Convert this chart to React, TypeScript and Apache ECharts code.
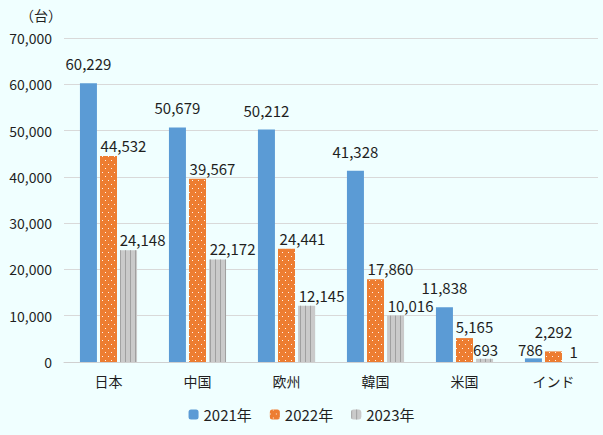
import React, { useEffect, useRef } from 'react';
import * as echarts from 'echarts';

const categories = ['日本', '中国', '欧州', '韓国', '米国', 'インド'];
const seriesNames = ['2021年', '2022年', '2023年'];
const values2021 = [60229, 50679, 50212, 41328, 11838, 786];
const values2022 = [44532, 39567, 24441, 17860, 5165, 2292];
const values2023 = [24148, 22172, 12145, 10016, 693, 1];

// label nudges, as in the source
const offsets2021 = [[0, 0], [0, 0], [0, 0], [0, 0], [0, 0], [-3, 11]];
const offsets2022 = [[15, 0], [15, 0], [16, 0], [15, 0], [10, -1], [0, -9]];
const offsets2023 = [[14, 0], [15, 0], [15, 0], [15, 0], [1, 1], [0, 0]];

const fmt = (v: number) => v.toLocaleString('en-US');
const font = '"Noto Sans CJK JP", "Noto Sans", sans-serif';
const textColor = '#1f1f1f';

export default function App() {
  const chartRef = useRef<HTMLDivElement>(null);

  useEffect(() => {
    if (!chartRef.current) return;
    const chart = echarts.init(chartRef.current, null, { renderer: 'svg' });

    const mk = (vals: number[], offs: number[][]) =>
      vals.map((v, i) => ({ value: v, label: { offset: offs[i] } }));

    const label = (distance: number) => ({
      show: true,
      position: 'top',
      distance,
      color: textColor,
      fontSize: 15,
      fontFamily: font,
      formatter: (p: any) => fmt(p.value),
    });

    chart.setOption({
      animation: false,
      backgroundColor: '#F0FFFF',
      textStyle: { fontFamily: font },
      grid: { left: 64, right: 5, top: 38, bottom: 73 },
      graphic: [
        {
          type: 'text',
          left: 20,
          top: 8,
          style: { text: '（台）', fill: textColor, fontSize: 14, fontFamily: font },
        },
      ],
      legend: {
        bottom: 8,
        left: 'center',
        itemWidth: 10,
        itemHeight: 10,
        itemGap: 18,
        textStyle: { color: textColor, fontSize: 15, fontFamily: font },
        data: seriesNames,
      },
      xAxis: {
        type: 'category',
        data: categories,
        axisTick: { show: false },
        axisLine: { lineStyle: { color: '#D0D0D0' } },
        axisLabel: { color: textColor, fontSize: 14, margin: 12, fontFamily: font },
      },
      yAxis: {
        type: 'value',
        min: 0,
        max: 70000,
        interval: 10000,
        splitLine: { lineStyle: { color: '#D9D9D9' } },
        axisLabel: { color: textColor, fontSize: 14, margin: 12, formatter: (v: number) => fmt(v), fontFamily: font },
      },
      series: [
        {
          name: seriesNames[0],
          type: 'bar',
          barWidth: 17,
          barGap: '18%',
          itemStyle: { color: '#5B9BD5' },
          label: label(12),
          data: mk(values2021, offsets2021),
        },
        {
          name: seriesNames[1],
          type: 'bar',
          barWidth: 17,
          barGap: '18%',
          itemStyle: {
            color: '#ED7D31',
            decal: {
              symbol: 'rect',
              symbolSize: 1,
              color: 'rgba(255,255,255,0.9)',
              dashArrayX: [[1, 5], [0, 3, 1, 2]],
              dashArrayY: [1, 3],
            },
          },
          label: label(3),
          data: mk(values2022, offsets2022),
        },
        {
          name: seriesNames[2],
          type: 'bar',
          barWidth: 17,
          barGap: '18%',
          itemStyle: {
            color: '#CACACA',
            decal: {
              symbol: 'rect',
              symbolSize: 1,
              color: '#A0A0A0',
              dashArrayX: [1, 4],
              dashArrayY: [4, 0],
            },
          },
          label: label(3),
          data: mk(values2023, offsets2023),
        },
      ],
    });

    return () => {
      chart.dispose();
    };
  }, []);

  return (
    <div
      ref={chartRef}
      style={{ position: 'fixed', left: 0, top: 0, width: 603, height: 435 }}
    />
  );
}
